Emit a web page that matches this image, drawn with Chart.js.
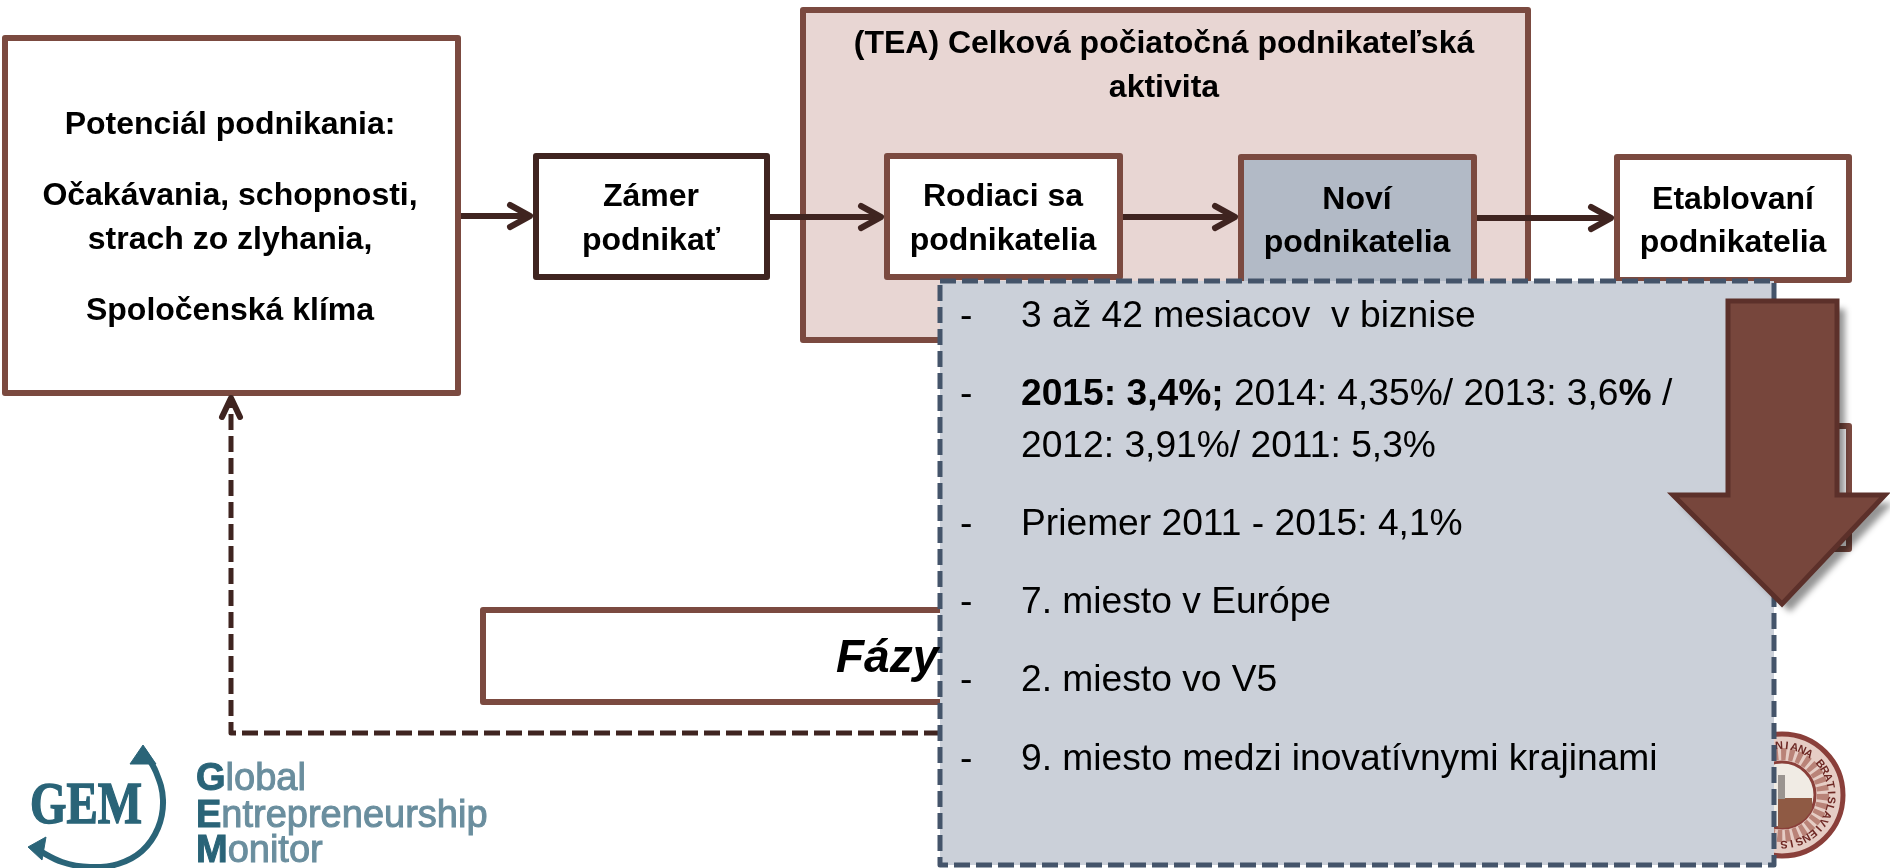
<!DOCTYPE html>
<html>
<head>
<meta charset="utf-8">
<title>Fázy podnikania</title>
<script src="https://cdn.jsdelivr.net/npm/chart.js@4"></script>
<style>
html, body { margin: 0; padding: 0; background: #fff; overflow: hidden; }
canvas { display: block; }
</style>
</head>
<body>
<canvas id="myChart" width="1890" height="868"></canvas>
<script>
"use strict";

// boxes of the diagram (back to front)
var boxNames  = ["potencial", "zamer", "tea", "rodiaci", "novi", "etablovani", "hidden", "fazy"];
var boxLeft   = [5, 536, 803, 887, 1241, 1617, 1617, 483];
var boxRight  = [458, 767, 1528, 1120, 1474, 1849, 1849, 1000];
var boxTop    = [38, 156, 10, 156, 157, 157, 426, 610];
var boxBottom = [393, 277, 340, 277, 300, 280, 549, 702];

// arrows between the boxes
var arrowStart = [461, 770, 1123, 1477];
var arrowEnd   = [533, 884, 1238, 1614];
var arrowY     = [216, 217, 217, 218];

// dashed way back to the first box
var backX = [940, 231, 231];
var backY = [733, 733, 404];

// grey panel and the big down arrow
var panelX = [940, 1774, 1774, 940, 940];
var panelY = [281, 281, 865, 865, 281];
var bigArrowX = [1728, 1837, 1837, 1885, 1782, 1673, 1728, 1728, 1837];
var bigArrowY = [301, 301, 495, 495, 604, 495, 495, 301, 301];

// GEM logo ring
var ringX = [143, 156, 163, 158, 142, 118, 90, 62, 36];
var ringY = [750, 772, 800, 828, 851, 864, 867, 862, 849];
var ringHeadTopX = [143, 130, 156, 143];
var ringHeadTopY = [745, 764, 764, 745];
var ringHeadLowX = [28, 46, 42, 28];
var ringHeadLowY = [847, 837, 860, 847];

// texts in the boxes
var labelText = ["Potenciál podnikania:", "Očakávania, schopnosti,", "strach zo zlyhania,", "Spoločenská klíma",
    "Zámer", "podnikať", "(TEA) Celková počiatočná podnikateľská", "aktivita",
    "Rodiaci sa", "podnikatelia", "Noví", "podnikatelia", "Etablovaní", "podnikatelia"];
var labelX = [230, 230, 230, 230, 651, 651, 1164, 1164, 1003, 1003, 1357, 1357, 1733, 1733];
var labelY = [134, 205, 249, 320, 206, 250, 53, 97, 206, 250, 209, 252, 209, 252];

// panel lines, each run is [text, bold]
var panelLines = [
    [["3 až 42 mesiacov  v biznise", false]],
    [["2015: 3,4%;", true], [" 2014: 4,35%/ 2013: 3,6", false], ["%", true], [" /", false]],
    [["2012: 3,91%/ 2011: 5,3%", false]],
    [["Priemer 2011 - 2015: 4,1%", false]],
    [["7. miesto v Európe", false]],
    [["2. miesto vo V5", false]],
    [["9. miesto medzi inovatívnymi krajinami", false]]
];
var panelLineY = [327, 405, 457, 535, 613, 691, 770];
var panelDash = [true, true, false, true, true, true, true];

var brown = "#7b4a40";
var dark = "#3f2420";
var fontName = '"Liberation Sans", Arial, sans-serif';

function pts(xs, ys) {
    return xs.map(function (x, i) { return {x: x, y: ys[i]}; });
}

function shape(xs, ys, fill, stroke, width, dash) {
    return {
        data: pts(xs, ys),
        showLine: true,
        fill: fill ? "shape" : false,
        backgroundColor: fill || "transparent",
        borderColor: stroke,
        borderWidth: width,
        borderDash: dash || [],
        borderJoinStyle: "round",
        pointRadius: 0,
        clip: false
    };
}

var boxFill = ["#ffffff", "#ffffff", "#e8d6d3", "#ffffff", "#b2bac6", "#ffffff", "#ffffff", "#ffffff"];
var boxStroke = [brown, dark, brown, brown, brown, brown, brown, brown];

var shapes = [];
boxNames.forEach(function (name, i) {
    var l = boxLeft[i], r = boxRight[i], t = boxTop[i], b = boxBottom[i];
    shapes.push(shape([l, r, r, l, l, r], [t, t, b, b, t, t], boxFill[i], boxStroke[i], 6));
});
arrowStart.forEach(function (x, i) {
    var tip = arrowEnd[i] - 3, y = arrowY[i];
    shapes.push(shape([x, tip], [y, y], null, dark, 6));
    var head = shape([tip - 20, tip, tip - 20], [y - 11, y, y + 11], null, dark, 6);
    head.borderCapStyle = "round";
    shapes.push(head);
});
shapes.push(shape(backX, backY, null, dark, 5, [16, 6]));
var backHead = shape([222, 231, 240], [417, 398, 417], null, dark, 6);
backHead.borderCapStyle = "round";
shapes.push(backHead);
shapes.push(shape(panelX, panelY, "#cbd0d9", "#44546a", 5, [16, 6]));
var shadowBelow = shapes.length - 1;
var bigArrow = shape(bigArrowX, bigArrowY, "#77463c", "#5c302a", 5);
bigArrow.borderJoinStyle = "miter";
shapes.push(bigArrow);

// logo ring
var ring = shape(ringX, ringY, null, "#2a6478", 6);
ring.tension = 0.4;
shapes.push(ring);
shapes.push(shape(ringHeadTopX, ringHeadTopY, "#2a6478", "#2a6478", 1));
shapes.push(shape(ringHeadLowX, ringHeadLowY, "#2a6478", "#2a6478", 1));

// first dataset is drawn on top, so the order runs the other way round
shapes.forEach(function (d, i) { d.order = shapes.length - i; });

function drawSeal(chart) {
    var ctx = chart.ctx;
    var cx = chart.scales.x.getPixelForValue(1782);
    var cy = chart.scales.y.getPixelForValue(795);
    var red = "#8a3f3a";
    ctx.save();
    ctx.beginPath(); ctx.arc(cx, cy, 61, 0, Math.PI * 2);
    ctx.fillStyle = "#e6cdc5"; ctx.fill();
    ctx.lineWidth = 5; ctx.strokeStyle = red; ctx.stroke();
    // inner ring, mottled like the worn lettering
    ctx.beginPath(); ctx.arc(cx, cy, 41, 0, Math.PI * 2);
    ctx.lineWidth = 12; ctx.strokeStyle = "#b98378"; ctx.setLineDash([5, 3]); ctx.stroke();
    ctx.setLineDash([]);
    ctx.beginPath(); ctx.arc(cx, cy, 33, 0, Math.PI * 2);
    ctx.fillStyle = "#f0ebe4"; ctx.fill();
    ctx.lineWidth = 3; ctx.strokeStyle = red; ctx.stroke();
    ctx.save();
    ctx.clip();
    ctx.fillStyle = "#8f5a44";
    ctx.fillRect(cx - 4, cy + 3, 34, 35);
    ctx.fillStyle = "#9a9490";
    ctx.fillRect(cx - 4, cy - 20, 7, 24);
    ctx.restore();
    // lettering around the seal
    var txt = "COMENIANA BRATISLAVIENSIS";
    ctx.fillStyle = "#6e2824";
    ctx.font = "bold 11px " + fontName;
    ctx.textAlign = "center";
    for (var i = 0; i < txt.length; i++) {
        var a = -Math.PI * 0.72 + i * 0.158;
        ctx.save();
        ctx.translate(cx + Math.cos(a) * 50, cy + Math.sin(a) * 50);
        ctx.rotate(a + Math.PI / 2);
        ctx.fillText(txt[i], 0, 4);
        ctx.restore();
    }
    ctx.restore();
}

function drawRuns(ctx, runs, x, y) {
    runs.forEach(function (r) {
        ctx.font = r[1];
        ctx.fillStyle = r[2] || "#000";
        ctx.strokeStyle = r[2] || "#000";
        ctx.fillText(r[0], x, y);
        if (r[3]) {
            ctx.lineWidth = r[3];
            ctx.strokeText(r[0], x, y);
        }
        x += ctx.measureText(r[0]).width;
    });
}

var diagramPlugin = {
    id: "diagram",
    beforeDatasetsDraw: function (chart) {
        drawSeal(chart);
    },
    afterDatasetDraw: function (chart, args) {
        if (args.index !== shadowBelow) return;
        // soft shadow of the big arrow
        var sx = chart.scales.x, sy = chart.scales.y, ctx = chart.ctx;
        ctx.save();
        ctx.filter = "blur(3px)";
        ctx.fillStyle = "rgba(0,0,0,0.42)";
        ctx.beginPath();
        bigArrowX.forEach(function (x, i) {
            ctx.lineTo(sx.getPixelForValue(x) + 8, sy.getPixelForValue(bigArrowY[i]) + 8);
        });
        ctx.closePath();
        ctx.fill();
        ctx.restore();
    },
    afterDatasetsDraw: function (chart) {
        var sx = chart.scales.x, sy = chart.scales.y, ctx = chart.ctx;
        ctx.save();
        ctx.textBaseline = "alphabetic";

        ctx.textAlign = "center";
        ctx.fillStyle = "#000";
        ctx.font = "bold 32px " + fontName;
        labelText.forEach(function (t, i) {
            ctx.fillText(t, sx.getPixelForValue(labelX[i]), sy.getPixelForValue(labelY[i]));
        });

        ctx.textAlign = "left";
        ctx.font = "italic bold 46px " + fontName;
        ctx.fillText("Fázy", sx.getPixelForValue(836), sy.getPixelForValue(672));

        panelLines.forEach(function (runs, i) {
            var y = sy.getPixelForValue(panelLineY[i]);
            ctx.font = "37.2px " + fontName;
            ctx.fillStyle = "#000";
            if (panelDash[i]) ctx.fillText("-", sx.getPixelForValue(960), y);
            drawRuns(ctx, runs.map(function (r) {
                return [r[0], (r[1] ? "bold " : "") + "37.2px " + fontName];
            }), sx.getPixelForValue(1021), y);
        });

        // GEM logo
        var teal = "#2a6478", soft = "#6a8e9e";
        ctx.fillStyle = teal;
        ctx.strokeStyle = teal;
        ctx.lineWidth = 1.5;
        ctx.font = 'bold 60px "Liberation Serif", serif';
        ctx.fillText("GEM", sx.getPixelForValue(30), sy.getPixelForValue(823), 112);
        ctx.strokeText("GEM", sx.getPixelForValue(30), sy.getPixelForValue(823), 112);
        var bold = "bold 38px " + fontName, thin = "38px " + fontName;
        var gx = sx.getPixelForValue(196);
        drawRuns(ctx, [["G", bold, teal, 1], ["lobal", thin, soft, 1]], gx, sy.getPixelForValue(790));
        drawRuns(ctx, [["E", bold, teal, 1], ["ntrepreneurship", thin, soft, 1]], gx, sy.getPixelForValue(827));
        drawRuns(ctx, [["M", bold, teal, 1], ["onitor", thin, soft, 1]], gx, sy.getPixelForValue(862));
        ctx.restore();
    }
};

var ctx = document.getElementById("myChart").getContext("2d");
var chart = new Chart(ctx, {
    type: "scatter",
    data: { datasets: shapes },
    options: {
        responsive: false,
        animation: false,
        layout: { padding: 0 },
        events: [],
        scales: {
            x: { type: "linear", min: 0, max: 1890, display: false },
            y: { type: "linear", min: 0, max: 868, reverse: true, display: false }
        },
        plugins: {
            legend: { display: false },
            tooltip: { enabled: false },
            filler: { drawTime: "beforeDatasetDraw" }
        }
    },
    plugins: [diagramPlugin]
});
</script>
</body>
</html>
